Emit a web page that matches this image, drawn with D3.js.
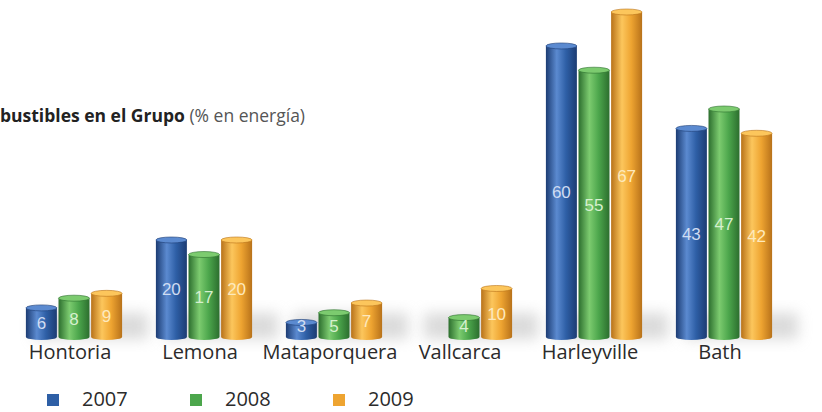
<!DOCTYPE html>
<html>
<head>
<meta charset="utf-8">
<script src="https://cdn.jsdelivr.net/npm/d3@7"></script>
<style>
  body { margin: 0; background: #fff; }
  svg { display: block; }
</style>
</head>
<body>
<div id="chart"></div>
<script>
// plants and yearly values (% en energía)
var plants = ["Hontoria", "Lemona", "Mataporquera", "Vallcarca", "Harleyville", "Bath"];
var years = ["2007", "2008", "2009"];
var v2007 = [6, 20, 3, null, 60, 43];
var v2008 = [8, 17, 5, 4, 55, 47];
var v2009 = [9, 20, 7, 10, 67, 42];
var series = [v2007, v2008, v2009];

var colors = ["#2e5fa6", "#4ca64c", "#eea431"];
var darks = ["#1c3c73", "#2c6e2e", "#b8721a"];
var lights = ["#5b8ad0", "#7ccb6f", "#fcc65c"];
var labelCols = ["#cfdcf2", "#d6f0cf", "#fde9bd"];

var width = 822, height = 412;
var baseline = 337;

var svg = d3.select("#chart").append("svg")
    .attr("width", width)
    .attr("height", height);

var defs = svg.append("defs");
colors.forEach(function(c, i) {
  var g = defs.append("linearGradient").attr("id", "cyl" + i)
      .attr("x1", "0%").attr("x2", "100%").attr("y1", "0%").attr("y2", "0%");
  g.append("stop").attr("offset", "0%").attr("stop-color", darks[i]);
  g.append("stop").attr("offset", "35%").attr("stop-color", lights[i]);
  g.append("stop").attr("offset", "65%").attr("stop-color", c);
  g.append("stop").attr("offset", "100%").attr("stop-color", darks[i]);
});
defs.append("filter").attr("id", "blur")
    .attr("x", "-50%").attr("y", "-50%").attr("width", "200%").attr("height", "200%")
  .append("feGaussianBlur").attr("stdDeviation", 7);

// scales
var x = d3.scaleBand()
    .domain(plants)
    .range([9, 789])
    .paddingInner(0.26)
    .paddingOuter(0.13);

var x1 = d3.scaleBand()
    .domain(years)
    .range([0, x.bandwidth()])
    .paddingInner(0.05);

var y = d3.scaleLinear()
    .domain([0, 67])
    .range([baseline, 12]);

// flat rows for drawing
var rows = [];
plants.forEach(function(p, pi) {
  years.forEach(function(yr, yi) {
    var v = series[yi][pi];
    if (v != null) rows.push({plant: p, year: yr, yi: yi, value: v});
  });
});

// soft shadow behind each group
svg.append("g").selectAll("rect")
    .data(plants)
  .enter().append("rect")
    .attr("x", function(d) { return x(d) + 8; })
    .attr("y", baseline - 24)
    .attr("width", x.bandwidth() + 18)
    .attr("height", 26)
    .attr("fill", "#bdbdbd")
    .attr("opacity", 0.55)
    .attr("filter", "url(#blur)");

var bars = svg.append("g").selectAll("g")
    .data(rows)
  .enter().append("g")
    .attr("transform", function(d) { return "translate(" + (x(d.plant) + x1(d.year)) + ",0)"; });

var bw = x1.bandwidth();
var ry = 3;

bars.append("path")
    .attr("d", function(d) {
      var t = y(d.value);
      return "M0," + t + "L0," + baseline +
        "A" + (bw / 2) + "," + ry + " 0 0 0 " + bw + "," + baseline +
        "L" + bw + "," + t + "Z";
    })
    .attr("fill", function(d) { return "url(#cyl" + d.yi + ")"; });

bars.append("ellipse")
    .attr("cx", bw / 2)
    .attr("cy", function(d) { return y(d.value); })
    .attr("rx", bw / 2)
    .attr("ry", ry)
    .attr("fill", function(d) { return lights[d.yi]; })
    .attr("stroke", function(d) { return darks[d.yi]; })
    .attr("stroke-width", 0.6);

// value inside the cylinder, kept clear of the plant name below
bars.append("text")
    .attr("x", bw / 2)
    .attr("y", function(d) { return Math.min((y(d.value) + baseline) / 2 + 7, baseline - 5); })
    .attr("text-anchor", "middle")
    .attr("font-family", "Liberation Sans, Arial, sans-serif")
    .attr("font-size", 17)
    .attr("fill", function(d) { return labelCols[d.yi]; })
    .text(function(d) { return d.value; });

// category labels
svg.append("g").selectAll("text")
    .data(plants)
  .enter().append("text")
    .attr("x", function(d) { return x(d) + x.bandwidth() / 2 - 4; })
    .attr("y", 359)
    .attr("text-anchor", "middle")
    .attr("font-family", "Open Sans, sans-serif")
    .attr("font-size", 20)
    .attr("fill", "#2b2b2b")
    .text(function(d) { return d; });

// title (cut at left edge in the original)
var title = svg.append("text")
    .attr("x", 0)
    .attr("y", 122)
    .attr("font-family", "Open Sans, sans-serif")
    .attr("font-size", 17.5)
    .attr("fill", "#222");
title.append("tspan").attr("font-weight", "bold").text("bustibles en el Grupo ");
title.append("tspan").attr("fill", "#555").attr("font-weight", "normal").text("(% en energía)");

// legend
var lx = [47, 190, 333];
var legend = svg.append("g").selectAll("g")
    .data(years)
  .enter().append("g")
    .attr("transform", function(d, i) { return "translate(" + lx[i] + ",0)"; });

legend.append("rect")
    .attr("x", 0)
    .attr("y", 394)
    .attr("width", 12)
    .attr("height", 12)
    .attr("fill", function(d, i) { return colors[i]; });

legend.append("text")
    .attr("x", 35)
    .attr("y", 406)
    .attr("font-family", "Open Sans, sans-serif")
    .attr("font-size", 20)
    .attr("fill", "#2b2b2b")
    .text(function(d) { return d; });
</script>
</body>
</html>
